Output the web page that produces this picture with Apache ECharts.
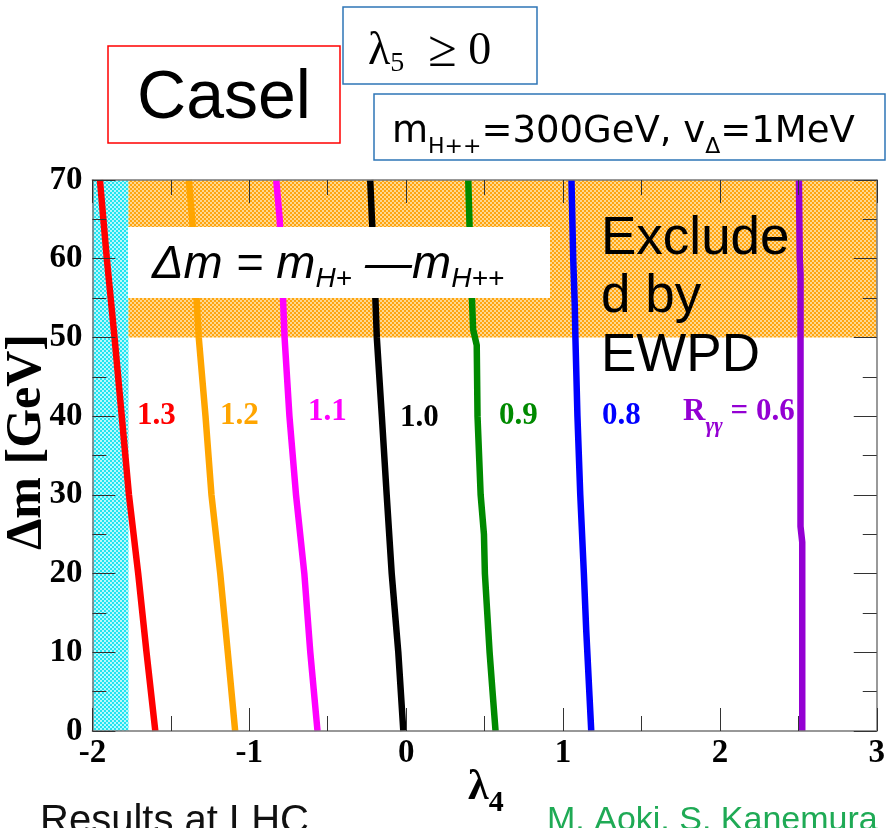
<!DOCTYPE html>
<html>
<head>
<meta charset="utf-8">
<script src="https://cdn.jsdelivr.net/npm/echarts@6/dist/echarts.min.js"></script>
<style>html,body{margin:0;padding:0;background:#fff;}#c{width:888px;height:828px;}</style>
</head>
<body>
<div id="c"></div>
<script>
// ---- data (λ4, Δm [GeV]) ----
const xTicks = [-2, -1, 0, 1, 2, 3];
const yTicks = [0, 10, 20, 30, 40, 50, 60, 70];
const contourNames = ['1.3', '1.2', '1.1', '1.0', '0.9', '0.8', '0.6'];
const contourColors = ['#ff0000', '#ffa500', '#ff00ff', '#000000', '#008a00', '#0000ff', '#9400d3'];
const r13 = [[-1.952,70],[-1.908,60],[-1.859,50],[-1.813,40],[-1.767,30],[-1.708,20],[-1.655,10],[-1.599,0]];
const r12 = [[-1.385,70],[-1.364,65],[-1.350,60],[-1.322,50],[-1.279,40],[-1.241,30],[-1.185,20],[-1.137,10],[-1.090,0]];
const r11 = [[-0.828,70],[-0.806,65],[-0.795,60],[-0.775,50],[-0.744,40],[-0.702,30],[-0.649,20],[-0.611,10],[-0.565,0]];
const r10 = [[-0.229,70],[-0.218,65],[-0.205,60],[-0.187,50],[-0.155,40],[-0.124,30],[-0.092,20],[-0.050,10],[-0.018,0]];
const r09 = [[0.396,70],[0.410,60],[0.427,51],[0.450,49],[0.455,40],[0.475,30],[0.496,25],[0.502,20],[0.532,10],[0.553,4.4],[0.570,0]];
const r08 = [[1.054,70],[1.065,60],[1.075,54],[1.079,50],[1.092,40],[1.110,30],[1.133,20],[1.148,12.8],[1.169,4.4],[1.180,0]];
const r06 = [[2.504,70],[2.509,60],[2.514,58],[2.514,40],[2.514,26],[2.525,24],[2.525,0]];
const contours = [r13, r12, r11, r10, r09, r08, r06];
// excluded regions: [xMin, xMax, yMin, yMax]
const cyanBand = [-2, -1.77, 0, 70];
const ewpdBand = [-1.77, 3, 50, 70];

function makePattern(c1, c2) {
  const cv = document.createElement('canvas');
  cv.width = 4; cv.height = 4;
  const ctx = cv.getContext('2d');
  ctx.fillStyle = c1; ctx.fillRect(0, 0, 4, 4);
  ctx.fillStyle = c2; ctx.fillRect(0, 0, 2, 2); ctx.fillRect(2, 2, 2, 2);
  return {image: cv, repeat: 'repeat'};
}
const bandFills = [makePattern('#22e4f0', '#b8f8fc'), makePattern('#ffa510', '#ffd890')];

const chart = echarts.init(document.getElementById('c'), null, {renderer: 'canvas'});

const serif = 'Liberation Serif';
const tickLabel = {fontFamily: serif, fontWeight: 'bold', fontSize: 33, color: '#000'};
function xAxisCfg(pos, showLabel) {
  return {
    type: 'value', min: -2, max: 3, interval: 1, position: pos, z: 10,
    axisLine: {show: true, onZero: false, lineStyle: {color: '#777', width: 1.5}},
    axisTick: {show: true, inside: true, length: 23, lineStyle: {color: '#333', width: 1}},
    minorTick: {show: true, splitNumber: 2, length: 15, lineStyle: {color: '#333', width: 1}},
    splitLine: {show: false},
    axisLabel: Object.assign({show: showLabel, margin: 6}, tickLabel)
  };
}
function yAxisCfg(pos, showLabel) {
  return {
    type: 'value', min: 0, max: 70, interval: 10, position: pos, z: 10,
    axisLine: {show: true, onZero: false, lineStyle: {color: '#777', width: 1.5}},
    axisTick: {show: true, inside: true, length: 23, lineStyle: {color: '#333', width: 1}},
    minorTick: {show: true, splitNumber: 2, length: 14, lineStyle: {color: '#333', width: 1}},
    splitLine: {show: false},
    axisLabel: Object.assign({show: showLabel, margin: 10}, tickLabel)
  };
}

const series = [{
  type: 'custom', z: 1, clip: true,
  xAxisIndex: 0, yAxisIndex: 0,
  encode: {x: [0, 1], y: [2, 3]},
  data: [cyanBand, ewpdBand],
  renderItem: function (params, api) {
    const p0 = api.coord([api.value(0), api.value(3)]);
    const p1 = api.coord([api.value(1), api.value(2)]);
    return {type: 'rect', shape: {x: p0[0], y: p0[1], width: p1[0] - p0[0], height: p1[1] - p0[1]},
            style: {fill: bandFills[params.dataIndex]}};
  }
}];
contours.forEach(function (d, i) {
  series.push({
    type: 'line', name: contourNames[i], z: 3, data: d, showSymbol: false, symbol: 'none',
    xAxisIndex: 0, yAxisIndex: 0, clip: true,
    lineStyle: {color: contourColors[i], width: 6.5, cap: 'butt', join: 'round'}
  });
});

const Z = 100;
const blue = '#2e75b6';
const lblStyle = function (c) { return {fontFamily: serif, fontWeight: 'bold', fontSize: 31, fill: c}; };
const graphic = [
  // title boxes
  {type: 'rect', z: Z, shape: {x: 108, y: 46, width: 232, height: 97}, style: {fill: '#fff', stroke: '#ff0000', lineWidth: 1.5}},
  {type: 'text', z: Z + 1, x: 224, y: 99, style: {text: 'Casel', font: '68px "Liberation Sans"', fill: '#000', align: 'center', verticalAlign: 'middle'}},
  {type: 'rect', z: Z, shape: {x: 343, y: 7, width: 194, height: 77}, style: {fill: '#fff', stroke: blue, lineWidth: 1.5}},
  {type: 'text', z: Z + 1, x: 368, y: 52, style: {
    text: '{a|λ}{s|5}{g|≥}{a| 0}', align: 'left', verticalAlign: 'middle',
    rich: {a: {fontFamily: serif, fontSize: 46, lineHeight: 52, fill: '#000'},
           g: {fontFamily: serif, fontSize: 52, lineHeight: 52, fill: '#000'},
           s: {fontFamily: serif, fontSize: 28, lineHeight: 26, verticalAlign: 'bottom', padding: [0, 24, 0, 0], fill: '#000'}}}},
  {type: 'rect', z: Z, shape: {x: 374, y: 94, width: 511, height: 66}, style: {fill: '#fff', stroke: blue, lineWidth: 1.5}},
  {type: 'text', z: Z + 1, x: 392, y: 132, style: {
    text: '{m|m}{s|H++}{m|=300GeV, v}{s|Δ}{m|=1MeV}', align: 'left', verticalAlign: 'middle',
    rich: {m: {fontFamily: 'DejaVu Sans', fontSize: 37, lineHeight: 52, fill: '#000'},
           s: {fontFamily: 'DejaVu Sans', fontSize: 22, lineHeight: 20, verticalAlign: 'bottom', fill: '#000'}}}},
  // Δm definition box (covers the lines)
  {type: 'rect', z: Z, shape: {x: 128, y: 227, width: 422, height: 71}, style: {fill: '#fff'}},
  {type: 'text', z: Z + 1, x: 152, y: 265, style: {
    text: '{i|Δm = m}{s|H+}{i| —m}{s|H++}', align: 'left', verticalAlign: 'middle',
    rich: {i: {fontFamily: 'Liberation Sans', fontStyle: 'italic', fontSize: 47, lineHeight: 56, fill: '#000'},
           s: {fontFamily: 'Liberation Sans', fontStyle: 'italic', fontSize: 28, lineHeight: 26, verticalAlign: 'bottom', fill: '#000'}}}},
  // excluded text
  {type: 'text', z: Z + 1, x: 601, y: 210, style: {text: 'Exclude\nd by\nEWPD', font: '53px "Liberation Sans"', lineHeight: 58.5, fill: '#000', align: 'left', verticalAlign: 'top'}},
  // contour labels
  {type: 'text', z: Z + 1, x: 137, y: 416, style: Object.assign({text: contourNames[0], verticalAlign: 'middle'}, lblStyle(contourColors[0]))},
  {type: 'text', z: Z + 1, x: 220, y: 416, style: Object.assign({text: contourNames[1], verticalAlign: 'middle'}, lblStyle(contourColors[1]))},
  {type: 'text', z: Z + 1, x: 308, y: 412, style: Object.assign({text: contourNames[2], verticalAlign: 'middle'}, lblStyle(contourColors[2]))},
  {type: 'text', z: Z + 1, x: 400, y: 418, style: Object.assign({text: contourNames[3], verticalAlign: 'middle'}, lblStyle(contourColors[3]))},
  {type: 'text', z: Z + 1, x: 499, y: 416, style: Object.assign({text: contourNames[4], verticalAlign: 'middle'}, lblStyle(contourColors[4]))},
  {type: 'text', z: Z + 1, x: 602, y: 416, style: Object.assign({text: contourNames[5], verticalAlign: 'middle'}, lblStyle(contourColors[5]))},
  {type: 'text', z: Z + 1, x: 683, y: 412, style: {
    text: '{a|R}{s|γγ}{a| = ' + contourNames[6] + '}', align: 'left', verticalAlign: 'middle',
    rich: {a: {fontFamily: serif, fontWeight: 'bold', fontSize: 31, lineHeight: 50, fill: contourColors[6]},
           s: {fontFamily: serif, fontStyle: 'italic', fontWeight: 'bold', fontSize: 21, lineHeight: 18, verticalAlign: 'bottom', fill: contourColors[6]}}}},
  // axis titles
  {type: 'text', z: Z + 1, x: 468, y: 788, style: {
    text: '{a|λ}{s|4}', align: 'left', verticalAlign: 'middle',
    rich: {a: {fontFamily: serif, fontWeight: 'bold', fontSize: 42, lineHeight: 60, fill: '#000'},
           s: {fontFamily: serif, fontWeight: 'bold', fontSize: 30, lineHeight: 22, verticalAlign: 'bottom', fill: '#000'}}}},
  {type: 'text', z: Z + 1, x: 27, y: 442, rotation: Math.PI / 2, style: {text: 'Δm [GeV]', font: 'bold 50px "Liberation Serif"', fill: '#000', align: 'center', verticalAlign: 'middle'}},
  // footer (cut off at bottom)
  {type: 'text', z: Z + 1, x: 40, y: 822, style: {text: 'Results at LHC', font: '40px "Liberation Sans"', fill: '#111', align: 'left', verticalAlign: 'middle'}},
  {type: 'text', z: Z + 1, x: 547, y: 821, style: {text: 'M. Aoki, S. Kanemura', font: '34px "Liberation Sans"', fill: '#1faa55', align: 'left', verticalAlign: 'middle'}}
];

chart.setOption({
  animation: false,
  backgroundColor: '#fff',
  grid: {left: 92.4, right: 7, top: 180, bottom: 97, containLabel: false},
  xAxis: [xAxisCfg('bottom', true), xAxisCfg('top', false)],
  yAxis: [yAxisCfg('left', true), yAxisCfg('right', false)],
  series: series,
  graphic: graphic
});
</script>
</body>
</html>
